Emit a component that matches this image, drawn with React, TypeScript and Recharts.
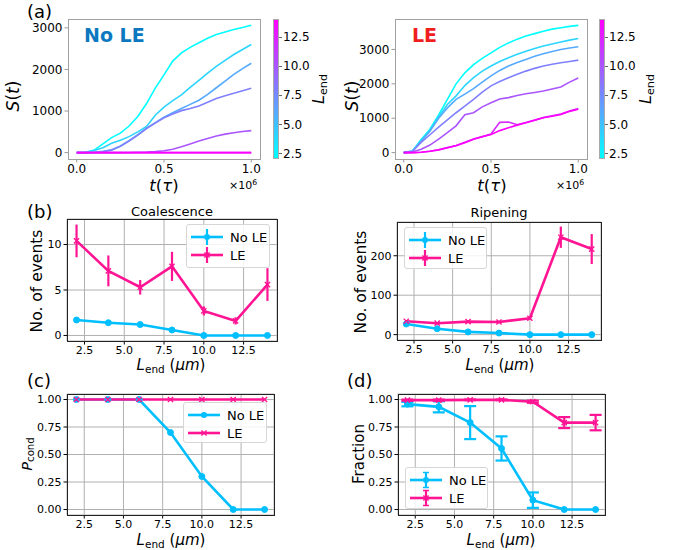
import React from 'react';
import { LineChart, Line, XAxis, YAxis, CartesianGrid, ErrorBar } from 'recharts';

const FONT = '"DejaVu Sans", sans-serif';
const CYAN = '#00BFFF';
const PINK = '#FF1493';

// ---------- Panel (a) data ----------
const lEndValues = [2, 4, 6, 8, 10, 12, 14];
const timeA = [0, 0.05, 0.1, 0.15, 0.2, 0.25, 0.3, 0.35, 0.4, 0.45, 0.5, 0.55, 0.6, 0.65, 0.7, 0.75, 0.8, 0.85, 0.9, 0.95, 1.0];

const noLeL2 = [0, 0, 60, 210, 360, 470, 640, 870, 1180, 1550, 1870, 2200, 2400, 2530, 2640, 2750, 2840, 2900, 2960, 3010, 3065];
const noLeL4 = [0, 10, 50, 120, 225, 300, 385, 500, 630, 900, 1095, 1250, 1390, 1570, 1740, 1910, 2075, 2220, 2360, 2480, 2600];
const noLeL6 = [0, 0, 10, 30, 70, 160, 290, 430, 590, 720, 850, 960, 1060, 1160, 1260, 1400, 1560, 1720, 1880, 2020, 2150];
const noLeL8 = [0, 0, 5, 20, 60, 150, 280, 420, 580, 710, 840, 930, 1010, 1060, 1120, 1210, 1300, 1370, 1430, 1490, 1550];
const noLeL10 = [0, 0, 0, 0, 0, 0, 5, 10, 15, 25, 45, 80, 140, 210, 280, 340, 400, 445, 480, 510, 530];
const noLeL12 = [0, 0, 0, 0, 0, 0, 0, 0, 0, 0, 0, 0, 0, 0, 0, 0, 0, 0, 0, 0, 0];
const noLeL14 = [0, 0, 0, 0, 0, 0, 0, 0, 0, 0, 0, 0, 0, 0, 0, 0, 0, 0, 0, 0, 0];

const leL2 = [0, 50, 380, 680, 1100, 1550, 2000, 2320, 2560, 2740, 2900, 3060, 3190, 3300, 3390, 3460, 3530, 3590, 3630, 3670, 3700];
const leL4 = [0, 40, 350, 640, 1050, 1400, 1650, 1950, 2180, 2370, 2520, 2650, 2760, 2860, 2950, 3030, 3100, 3160, 3215, 3270, 3320];
const leL6 = [0, 40, 330, 620, 1000, 1300, 1550, 1700, 1860, 2050, 2230, 2390, 2520, 2620, 2710, 2800, 2875, 2940, 3000, 3040, 3080];
const leL8 = [0, 40, 300, 520, 740, 950, 1160, 1350, 1550, 1760, 1940, 2070, 2180, 2280, 2370, 2450, 2520, 2570, 2615, 2650, 2690];
const leL10 = [0, 20, 100, 220, 390, 580, 780, 1100, 1160, 1330, 1450, 1560, 1600, 1660, 1710, 1750, 1790, 1850, 1910, 2050, 2170];
const leL12 = [0, 0, 10, 40, 85, 145, 210, 300, 395, 465, 540, 880, 890, 810, 875, 945, 1020, 1070, 1120, 1210, 1280];
const leL14 = [0, 0, 10, 40, 80, 140, 200, 290, 390, 460, 530, 640, 725, 800, 870, 940, 1015, 1060, 1110, 1200, 1260];

const noLeSeries = [noLeL2, noLeL4, noLeL6, noLeL8, noLeL10, noLeL12, noLeL14];
const leSeries = [leL2, leL4, leL6, leL8, leL10, leL12, leL14];

// ---------- Panels (b)-(d) data ----------
const lAxis = [2, 4, 6, 8, 10, 12, 14];
const xTicksL = [2.5, 5, 7.5, 10, 12.5];

const coalNoLe = [1.7, 1.4, 1.2, 0.6, 0, 0, 0];
const coalNoLeErr = [0.15, 0.15, 0.15, 0.15, 0, 0, 0];
const coalLe = [10.4, 7.1, 5.3, 7.6, 2.7, 1.6, 5.6];
const coalLeErr = [1.8, 1.7, 0.8, 1.6, 0.5, 0.4, 1.8];

const ripNoLe = [27, 15, 7, 4, 0, 0, 0];
const ripNoLeErr = [3, 2, 1.5, 1, 0, 0, 0];
const ripLe = [34, 29, 33, 32, 41.5, 247, 217];
const ripLeErr = [3, 3, 3, 3, 3, 27, 38];

const pcNoLe = [1, 1, 1, 0.7, 0.3, 0, 0];
const pcLe = [1, 1, 1, 1, 1, 1, 1];

const frNoLe = [0.958, 0.933, 0.79, 0.555, 0.085, 0, 0];
const frNoLeErr = [0.02, 0.05, 0.15, 0.11, 0.07, 0, 0];
const frLe = [0.994, 0.994, 0.997, 0.997, 0.98, 0.79, 0.79];
const frLeErr = [0.005, 0.005, 0.003, 0.003, 0.01, 0.05, 0.07];

// ---------- helpers ----------
const coolColor = (L: number) => {
  const t = (L - 2) / 12;
  return `rgb(${Math.round(255 * t)},${Math.round(255 * (1 - t))},255)`;
};

const buildA = (series: number[][]) =>
  timeA.map((t, i) => {
    const row: any = { t };
    series.forEach((s, k) => { row['s' + lEndValues[k]] = s[i]; });
    return row;
  });

const buildL = (a: number[], ae: number[] | null, b: number[], be: number[] | null) =>
  lAxis.map((L, i) => ({ L, no: a[i], noErr: ae ? ae[i] : 0, le: b[i], leErr: be ? be[i] : 0 }));

type Rect = { x: number; y: number; w: number; h: number };
const YW = 50, MT = 5, MR = 5, XH = 26;

const XMark = (props: any) => {
  const { cx, cy, index } = props;
  if (cx == null || cy == null) return <g key={'x' + index} />;
  const s = 2.6;
  return (
    <path key={'x' + index} d={`M${cx - s},${cy - s}L${cx + s},${cy + s}M${cx - s},${cy + s}L${cx + s},${cy - s}`}
      stroke={PINK} strokeWidth={1.4} fill="none" />
  );
};

const Frame = ({ r, color }: { r: Rect; color: string }) => (
  <div style={{ position: 'absolute', left: r.x, top: r.y, width: r.w + 1, height: r.h + 1, border: `1px solid ${color}`, boxSizing: 'border-box', pointerEvents: 'none' }} />
);

const Txt = ({ x, y, size, children, rotate, anchor, style }: any) => (
  <div style={{
    position: 'absolute', left: x, top: y, fontFamily: FONT, fontSize: size, lineHeight: 1, whiteSpace: 'nowrap',
    transform: `translate(${anchor === 'start' ? '0' : '-50%'},-50%)${rotate ? ' rotate(-90deg)' : ''}`, color: '#000', ...style,
  }}>{children}</div>
);

const Sub = ({ children }: any) => <span style={{ fontSize: '0.7em', verticalAlign: '-0.28em', fontStyle: 'normal' }}>{children}</span>;

const LEnd = () => (<span><i>L</i><Sub>end</Sub></span>);

// ---------- Panel (a) ----------
const PanelA = ({ r, series, yDomain, yTicks }: { r: Rect; series: number[][]; yDomain: number[]; yTicks: number[] }) => {
  const data = buildA(series);
  return (
    <div style={{ position: 'absolute', left: r.x - YW, top: r.y - MT }}>
      <LineChart width={r.w + YW + MR} height={r.h + MT + XH} data={data} margin={{ top: MT, right: MR, left: 0, bottom: 0 }}>
        <XAxis dataKey="t" type="number" domain={[-0.05, 1.05]} ticks={[0, 0.5, 1]} interval={0} allowDataOverflow
          tickFormatter={(v: number) => v.toFixed(1)} height={XH} axisLine={false} tickSize={3.5} tickMargin={2}
          tickLine={{ stroke: '#999' }} tick={{ fontSize: 12, fill: '#000', fontFamily: FONT }} />
        <YAxis type="number" domain={yDomain} ticks={yTicks} interval={0} allowDataOverflow width={YW}
          axisLine={false} tickSize={3.5} tickMargin={2} tickLine={{ stroke: '#999' }}
          tick={{ fontSize: 12, fill: '#000', fontFamily: FONT }} />
        {lEndValues.map((L) => (
          <Line key={L} dataKey={'s' + L} type="linear" stroke={coolColor(L)} strokeWidth={1.6} dot={false} isAnimationActive={false} />
        ))}
      </LineChart>
    </div>
  );
};

const Colorbar = ({ x, y, h }: { x: number; y: number; h: number }) => {
  const ticks = [2.5, 5, 7.5, 10, 12.5];
  return (
    <>
      <div style={{ position: 'absolute', left: x, top: y, width: 6, height: h, background: 'linear-gradient(to top, #00ffff, #ff00ff)', border: '0.5px solid #aaa', boxSizing: 'border-box' }} />
      {ticks.map((v) => {
        const ty = y + h - ((v - 2) / 12) * h;
        return (
          <React.Fragment key={v}>
            <div style={{ position: 'absolute', left: x + 6, top: ty, width: 3, height: 1, background: '#666' }} />
            <Txt x={x + 10} y={ty + 0.5} size={12} anchor="start">{v.toFixed(1)}</Txt>
          </React.Fragment>
        );
      })}
    </>
  );
};

// ---------- Panels (b)-(d) ----------
const PanelL = ({ r, data, yDomain, yTicks, yFmt, errNo, errLe, cap }: any) => (
  <div style={{ position: 'absolute', left: r.x - YW, top: r.y - MT }}>
    <LineChart width={r.w + YW + MR} height={r.h + MT + XH} data={data} margin={{ top: MT, right: MR, left: 0, bottom: 0 }}>
      <CartesianGrid stroke="#b0b0b0" strokeWidth={1} />
      <XAxis dataKey="L" type="number" domain={[1.4, 14.6]} ticks={xTicksL} interval={0} allowDataOverflow
        tickFormatter={(v: number) => v.toFixed(1)} height={XH} axisLine={false} tickSize={3.5} tickMargin={2}
        tickLine={{ stroke: '#000' }} tick={{ fontSize: 11, fill: '#000', fontFamily: FONT }} />
      <YAxis type="number" domain={yDomain} ticks={yTicks} interval={0} allowDataOverflow width={YW}
        tickFormatter={yFmt} axisLine={false} tickSize={3.5} tickMargin={2} tickLine={{ stroke: '#000' }}
        tick={{ fontSize: 11, fill: '#000', fontFamily: FONT }} />
      <Line dataKey="no" type="linear" stroke={CYAN} strokeWidth={2.6} isAnimationActive={false}
        dot={{ r: 3, fill: CYAN, stroke: CYAN, strokeWidth: 1 }}>
        {errNo && <ErrorBar dataKey="noErr" width={cap} strokeWidth={2.2} stroke={CYAN} direction="y" />}
      </Line>
      <Line dataKey="le" type="linear" stroke={PINK} strokeWidth={2.6} isAnimationActive={false} dot={XMark}>
        {errLe && <ErrorBar dataKey="leErr" width={cap} strokeWidth={2.2} stroke={PINK} direction="y" />}
      </Line>
    </LineChart>
  </div>
);

const LegendBox = ({ x, y, w, h, err, cap }: any) => {
  const Handle = ({ color, marker }: any) => (
    <svg width={34} height={18} style={{ display: 'block' }}>
      <line x1={1} y1={9} x2={33} y2={9} stroke={color} strokeWidth={2.6} />
      {err && <line x1={17} y1={1} x2={17} y2={17} stroke={color} strokeWidth={2.2} />}
      {err && cap > 0 && <line x1={14} y1={1.5} x2={20} y2={1.5} stroke={color} strokeWidth={1.5} />}
      {err && cap > 0 && <line x1={14} y1={16.5} x2={20} y2={16.5} stroke={color} strokeWidth={1.5} />}
      {marker === 'o' ? <circle cx={17} cy={9} r={3} fill={color} /> :
        <path d="M14.4,6.4L19.6,11.6M14.4,11.6L19.6,6.4" stroke={color} strokeWidth={1.4} />}
    </svg>
  );
  const row = (label: string, color: string, marker: string) => (
    <div style={{ display: 'flex', alignItems: 'center', height: 18 }}>
      <Handle color={color} marker={marker} />
      <span style={{ marginLeft: 6, fontFamily: FONT, fontSize: 13, color: '#000' }}>{label}</span>
    </div>
  );
  return (
    <div style={{ position: 'absolute', left: x, top: y, width: w, height: h, background: 'rgba(255,255,255,0.85)', border: '1px solid #d6d6d6', borderRadius: 3, boxSizing: 'border-box', padding: '3px 0 0 3px' }}>
      {row('No LE', CYAN, 'o')}
      {row('LE', PINK, 'x')}
    </div>
  );
};

export default function App() {
  const rA1: Rect = { x: 68, y: 19, w: 192, h: 140 };
  const rA2: Rect = { x: 395, y: 19, w: 192, h: 140 };
  const rB1: Rect = { x: 67, y: 219, w: 210, h: 122 };
  const rB2: Rect = { x: 397, y: 222, w: 204, h: 118 };
  const rC: Rect = { x: 67, y: 394, w: 207, h: 121 };
  const rD: Rect = { x: 398, y: 394, w: 207, h: 121 };

  const fmt0 = (v: number) => String(v);
  const fmt2 = (v: number) => v.toFixed(2);

  return (
    <div style={{ position: 'absolute', left: 0, top: 0, width: 673, height: 550, background: '#fff', overflow: 'hidden', fontFamily: FONT }}>
      {/* (a) */}
      <PanelA r={rA1} series={noLeSeries} yDomain={[-153, 3213]} yTicks={[0, 1000, 2000, 3000]} />
      <Frame r={rA1} color="#a0a0a0" />
      <PanelA r={rA2} series={leSeries} yDomain={[-185, 3885]} yTicks={[0, 1000, 2000, 3000]} />
      <Frame r={rA2} color="#a0a0a0" />
      <Colorbar x={273} y={19} h={140} />
      <Colorbar x={599} y={19} h={140} />
      <Txt x={27} y={12} size={18} anchor="start">(a)</Txt>
      <Txt x={84} y={35} size={19} anchor="start" style={{ fontWeight: 'bold', color: '#0b78bf' }}>No LE</Txt>
      <Txt x={412} y={35} size={19} anchor="start" style={{ fontWeight: 'bold', color: '#f01e1e' }}>LE</Txt>
      <Txt x={13} y={96} size={17} rotate><i>S</i>(<i>t</i>)</Txt>
      <Txt x={352} y={96} size={17} rotate><i>S</i>(<i>t</i>)</Txt>
      <Txt x={164} y={186} size={16.5}><i>t</i>(<i>τ</i>)</Txt>
      <Txt x={492} y={186} size={16.5}><i>t</i>(<i>τ</i>)</Txt>
      <Txt x={229} y={185} size={11} anchor="start">×10<sup style={{ fontSize: '0.7em', verticalAlign: '0.5em' }}>6</sup></Txt>
      <Txt x={556} y={185} size={11} anchor="start">×10<sup style={{ fontSize: '0.7em', verticalAlign: '0.5em' }}>6</sup></Txt>
      <Txt x={320} y={89} size={16} rotate><LEnd /></Txt>
      <Txt x={647} y={89} size={16} rotate><LEnd /></Txt>

      {/* (b) */}
      <PanelL r={rB1} data={buildL(coalNoLe, coalNoLeErr, coalLe, coalLeErr)} yDomain={[-0.61, 12.81]} yTicks={[0, 5, 10]} yFmt={fmt0} errNo errLe cap={0} />
      <Frame r={rB1} color="#222" />
      <PanelL r={rB2} data={buildL(ripNoLe, ripNoLeErr, ripLe, ripLeErr)} yDomain={[-13.6, 285.6]} yTicks={[0, 100, 200]} yFmt={fmt0} errNo errLe cap={0} />
      <Frame r={rB2} color="#222" />
      <Txt x={27} y={212} size={18} anchor="start">(b)</Txt>
      <Txt x={172} y={211} size={13}>Coalescence</Txt>
      <Txt x={499} y={212} size={13}>Ripening</Txt>
      <Txt x={38} y={281} size={15.5} rotate>No. of events</Txt>
      <Txt x={362} y={282} size={15.5} rotate>No. of events</Txt>
      <Txt x={171} y={366} size={15}><LEnd /> (<i>μm</i>)</Txt>
      <Txt x={500} y={366} size={15}><LEnd /> (<i>μm</i>)</Txt>
      <LegendBox x={186} y={224} w={84} h={44} err cap={0} />
      <LegendBox x={404} y={227} w={83} h={42} err cap={0} />

      {/* (c) */}
      <PanelL r={rC} data={buildL(pcNoLe, null, pcLe, null)} yDomain={[-0.05, 1.05]} yTicks={[0, 0.25, 0.5, 0.75, 1]} yFmt={fmt2} errNo={false} errLe={false} cap={0} />
      <Frame r={rC} color="#222" />
      <Txt x={27} y={381} size={18} anchor="start">(c)</Txt>
      <Txt x={28} y={454} size={14.5} rotate><i>P</i><Sub>cond</Sub></Txt>
      <Txt x={171} y={541} size={15}><LEnd /> (<i>μm</i>)</Txt>
      <LegendBox x={183} y={402} w={84} h={41} err={false} cap={0} />

      {/* (d) */}
      <PanelL r={rD} data={buildL(frNoLe, frNoLeErr, frLe, frLeErr)} yDomain={[-0.05, 1.05]} yTicks={[0, 0.25, 0.5, 0.75, 1]} yFmt={fmt2} errNo errLe cap={6} />
      <Frame r={rD} color="#222" />
      <Txt x={347} y={381} size={18} anchor="start">(d)</Txt>
      <Txt x={359} y={454} size={15} rotate>Fraction</Txt>
      <Txt x={501} y={541} size={15}><LEnd /> (<i>μm</i>)</Txt>
      <LegendBox x={405} y={467} w={83} h={42} err cap={6} />
    </div>
  );
}
